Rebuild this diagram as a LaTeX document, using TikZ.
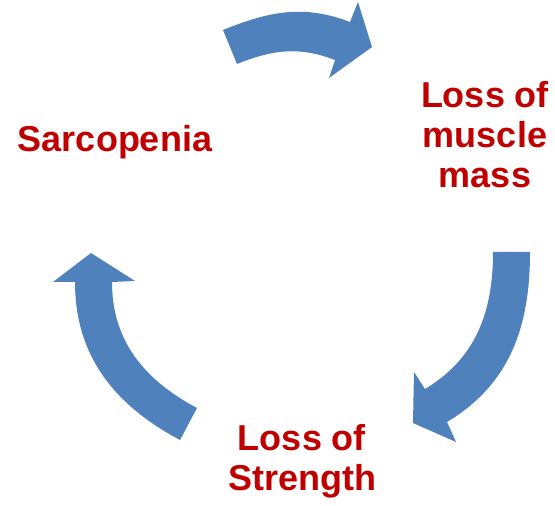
\documentclass[tikz,border=0pt]{standalone}
\usepackage{fontspec}
\setmainfont{Liberation Sans}
\definecolor{cycleblue}{HTML}{4F81BD}
\definecolor{cyclered}{HTML}{C00000}
\begin{document}
\begin{tikzpicture}[x=1pt,y=1pt,
    cyclearrow/.style={fill=cycleblue},
    stage/.style={text=cyclered,font=\fontsize{36}{40}\selectfont\bfseries,align=center,inner sep=0pt,anchor=base}]
        \useasboundingbox (0,0) rectangle (555,506);
        % arrows of the cycle
        \fill[cyclearrow] (223,476) to[out=22,in=159] (350,484) -- (358,504) -- (372,459) -- (329,428) -- (335,446) to[out=159,in=22] (237,442) -- cycle;
        \fill[cyclearrow] (530,254) to[out=270,in=31] (447,84) -- (456,64) -- (413,83) -- (414,134) -- (425,117) to[out=31,in=270] (493,254) -- cycle;
        \fill[cyclearrow] (180,66) to[out=152,in=270] (75,224) -- (53,224) -- (91,253) -- (135,225) -- (112,224) to[out=270,in=152] (197,98) -- cycle;
        % stages (base = last line)
        \node[stage] (sarc) at (115,354) {Sarcopenia};
        \node[stage] (mass) at (485,318) {Loss of\\muscle\\mass};
        \node[stage] (strength) at (302,15) {Loss of\\Strength};
\end{tikzpicture}
\end{document}
